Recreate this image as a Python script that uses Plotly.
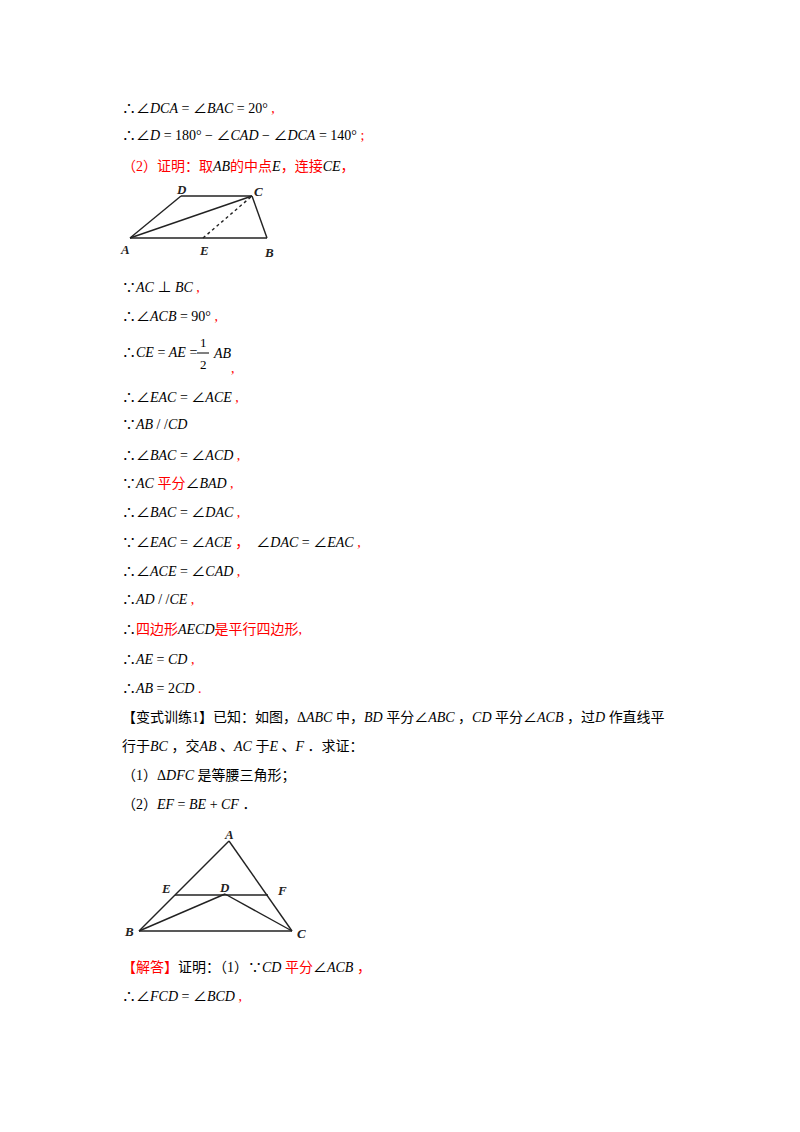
import plotly.graph_objects as go

R = "#ff0000"
K = "#000000"

# text lines: (y, [(text, color)])
lines = [
    (108, [("∴∠<i>DCA</i> = ∠<i>BAC</i> = 20°", K), (" ,", R)]),
    (135, [("∴∠<i>D</i> = 180° − ∠<i>CAD</i> − ∠<i>DCA</i> = 140°", K), (" ;", R)]),
    (166, [("（2）证明：取", R), ("<i>AB</i>", K), ("的中点", R), ("<i>E</i>", K), ("，连接", R), ("<i>CE</i>", K), ("，", R)]),
    (287, [("∵<i>AC</i> ⊥ <i>BC</i>", K), (" ,", R)]),
    (316, [("∴∠<i>ACB</i> = 90°", K), (" ,", R)]),
    (397, [("∴∠<i>EAC</i> = ∠<i>ACE</i>", K), (" ,", R)]),
    (424, [("∵<i>AB</i> / /<i>CD</i>", K)]),
    (455, [("∴∠<i>BAC</i> = ∠<i>ACD</i>", K), (" ,", R)]),
    (483, [("∵<i>AC</i> ", K), ("平分", R), ("∠<i>BAD</i>", K), (" ,", R)]),
    (512, [("∴∠<i>BAC</i> = ∠<i>DAC</i>", K), (" ,", R)]),
    (542, [("∵∠<i>EAC</i> = ∠<i>ACE</i>", K), (" ，  ", R), ("∠<i>DAC</i> = ∠<i>EAC</i>", K), (" ,", R)]),
    (571, [("∴∠<i>ACE</i> = ∠<i>CAD</i>", K), (" ,", R)]),
    (599, [("∴<i>AD</i> / /<i>CE</i>", K), (" ,", R)]),
    (629, [("∴", K), ("四边形", R), ("<i>AECD</i>", K), ("是平行四边形,", R)]),
    (659, [("∴<i>AE</i> = <i>CD</i>", K), (" ,", R)]),
    (688, [("∴<i>AB</i> = 2<i>CD</i>", K), (" .", R)]),
    (717, [("【变式训练1】已知：如图，Δ<i>ABC</i> 中，<i>BD</i> 平分∠<i>ABC</i> ，<i>CD</i> 平分∠<i>ACB</i> ，过<i>D</i> 作直线平", K)]),
    (746, [("行于<i>BC</i> ，交<i>AB</i> 、<i>AC</i> 于<i>E</i> 、<i>F</i> ．求证：", K)]),
    (775, [("（1）Δ<i>DFC</i> 是等腰三角形；", K)]),
    (804, [("（2）<i>EF</i> = <i>BE</i> + <i>CF</i> ．", K)]),
    (967, [("【解答】", R), ("证明：（1）∵<i>CD</i> ", K), ("平分", R), ("∠<i>ACB</i>", K), (" ，", R)]),
    (996, [("∴∠<i>FCD</i> = ∠<i>BCD</i>", K), (" ,", R)]),
]

# figure 1 points
fig1_pts = {"A": (130, 238), "B": (267, 238), "C": (252, 196), "D": (181, 196), "E": (203, 238)}
fig1_segs = [("A", "B"), ("B", "C"), ("C", "D"), ("D", "A"), ("A", "C")]
fig1_dash = [("E", "C")]
fig1_lbl = {"A": (125, 249), "B": (269, 252), "C": (258, 191), "D": (181, 189), "E": (204, 250)}

# figure 2 points
fig2_pts = {"A": (229, 841), "B": (139, 931), "C": (292, 931), "E": (175, 895), "F": (268, 895), "D": (225, 894)}
fig2_segs = [("A", "B"), ("A", "C"), ("B", "C"), ("E", "F"), ("B", "D"), ("D", "C")]
fig2_lbl = {"A": (229, 834), "B": (129, 931), "C": (301, 933), "E": (166, 888), "F": (282, 890), "D": (224, 887)}

FONT = "Liberation Serif, Noto Sans CJK SC"
fig = go.Figure()

for pts, segs, dash in [(fig1_pts, fig1_segs, "solid"), (fig1_pts, fig1_dash, "dot"), (fig2_pts, fig2_segs, "solid")]:
    for a, b in segs:
        fig.add_trace(go.Scatter(x=[pts[a][0], pts[b][0]], y=[pts[a][1], pts[b][1]], mode="lines",
                                 line=dict(color="#222", width=1.4, dash=dash), hoverinfo="skip", showlegend=False))

annots = []
for y, segs in lines:
    txt = "".join(f'<span style="color:{c}">{t}</span>' for t, c in segs)
    annots.append(dict(x=120, y=y, text=txt, xanchor="left", yanchor="middle", showarrow=False,
                       font=dict(size=14, family=FONT, color=K)))
# fraction
annots += [
    dict(x=120, y=352, text="∴<i>CE</i> = <i>AE</i> =", xanchor="left", yanchor="middle", showarrow=False, font=dict(size=14, family=FONT, color=K)),
    dict(x=203, y=342, text="1", xanchor="center", yanchor="middle", showarrow=False, font=dict(size=13, family=FONT, color=K)),
    dict(x=203, y=364, text="2", xanchor="center", yanchor="middle", showarrow=False, font=dict(size=13, family=FONT, color=K)),
    dict(x=211, y=353, text="<i>AB</i>", xanchor="left", yanchor="middle", showarrow=False, font=dict(size=14, family=FONT, color=K)),
    dict(x=229, y=368, text=",", xanchor="left", yanchor="middle", showarrow=False, font=dict(size=14, family=FONT, color=R)),
]
for lbl in (fig1_lbl, fig2_lbl):
    for k, (x, y) in lbl.items():
        annots.append(dict(x=x, y=y, text=f"<b><i>{k}</i></b>", showarrow=False, xanchor="center", yanchor="middle",
                           font=dict(size=13, family="Liberation Serif", color="#222")))

fig.update_layout(
    width=800, height=1132, margin=dict(l=0, r=0, t=0, b=0),
    paper_bgcolor="white", plot_bgcolor="white",
    xaxis=dict(range=[8, 808], visible=False, fixedrange=True),
    yaxis=dict(range=[1140, 8], visible=False, fixedrange=True),
    annotations=annots,
    shapes=[dict(type="line", x0=197, x1=209, y0=353, y1=353, line=dict(color="black", width=1))],
)
fig.write_html("out.html")
